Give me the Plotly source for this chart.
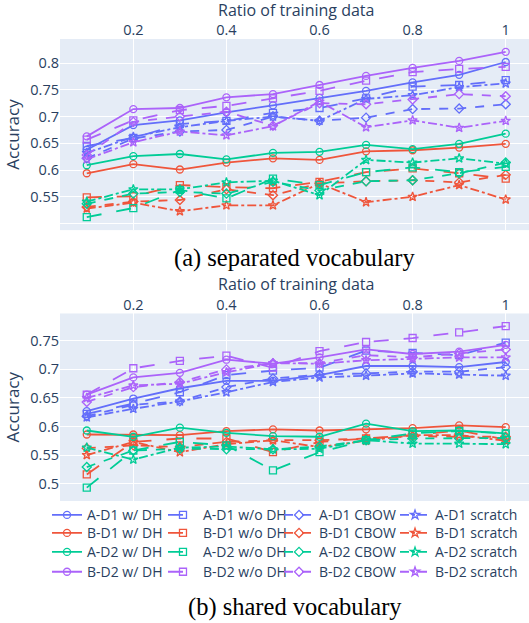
import plotly.graph_objects as go

ratios = [0.1, 0.2, 0.3, 0.4, 0.5, 0.6, 0.7, 0.8, 0.9, 1.0]
tick_vals_x = [0.2, 0.4, 0.6, 0.8, 1.0]
tick_text_x = ["0.2", "0.4", "0.6", "0.8", "1"]

datasets = ["A-D1", "B-D1", "A-D2", "B-D2"]
methods = ["w/ DH", "w/o DH", "CBOW", "scratch"]

# (a) separated vocabulary
sep_AD1_wDH = [0.638, 0.684, 0.693, 0.708, 0.721, 0.735, 0.748, 0.764, 0.778, 0.802]
sep_AD1_woDH = [0.645, 0.660, 0.686, 0.692, 0.707, 0.716, 0.734, 0.756, 0.759, 0.768]
sep_AD1_CBOW = [0.622, 0.659, 0.672, 0.675, 0.700, 0.692, 0.698, 0.714, 0.715, 0.723]
sep_AD1_scratch = [0.632, 0.662, 0.680, 0.692, 0.700, 0.692, 0.733, 0.740, 0.755, 0.762]
sep_BD1_wDH = [0.594, 0.611, 0.601, 0.614, 0.622, 0.619, 0.635, 0.637, 0.642, 0.649]
sep_BD1_woDH = [0.549, 0.551, 0.572, 0.568, 0.566, 0.578, 0.596, 0.603, 0.594, 0.584]
sep_BD1_CBOW = [0.531, 0.541, 0.544, 0.564, 0.553, 0.575, 0.579, 0.581, 0.577, 0.591]
sep_BD1_scratch = [0.528, 0.539, 0.523, 0.534, 0.534, 0.575, 0.540, 0.550, 0.572, 0.545]
sep_AD2_wDH = [0.609, 0.626, 0.630, 0.620, 0.632, 0.634, 0.647, 0.639, 0.649, 0.668]
sep_AD2_woDH = [0.512, 0.529, 0.563, 0.547, 0.584, 0.572, 0.596, 0.605, 0.596, 0.606]
sep_AD2_CBOW = [0.537, 0.556, 0.559, 0.556, 0.578, 0.562, 0.579, 0.581, 0.594, 0.614]
sep_AD2_scratch = [0.541, 0.564, 0.564, 0.577, 0.580, 0.553, 0.619, 0.614, 0.622, 0.612]
sep_BD2_wDH = [0.663, 0.714, 0.716, 0.736, 0.742, 0.759, 0.776, 0.791, 0.804, 0.821]
sep_BD2_woDH = [0.657, 0.693, 0.712, 0.720, 0.734, 0.748, 0.767, 0.783, 0.789, 0.793]
sep_BD2_CBOW = [0.628, 0.690, 0.700, 0.709, 0.683, 0.725, 0.723, 0.732, 0.742, 0.738]
sep_BD2_scratch = [0.620, 0.652, 0.672, 0.665, 0.682, 0.728, 0.680, 0.693, 0.679, 0.692]

# (b) shared vocabulary
sha_AD1_wDH = [0.627, 0.649, 0.667, 0.680, 0.680, 0.690, 0.706, 0.706, 0.704, 0.713]
sha_AD1_woDH = [0.622, 0.640, 0.660, 0.690, 0.698, 0.703, 0.733, 0.729, 0.725, 0.747]
sha_AD1_CBOW = [0.618, 0.638, 0.644, 0.669, 0.684, 0.691, 0.693, 0.696, 0.696, 0.704]
sha_AD1_scratch = [0.616, 0.631, 0.644, 0.660, 0.678, 0.686, 0.689, 0.693, 0.691, 0.689]
sha_BD1_wDH = [0.586, 0.586, 0.585, 0.592, 0.595, 0.593, 0.595, 0.597, 0.602, 0.599]
sha_BD1_woDH = [0.516, 0.573, 0.579, 0.579, 0.555, 0.573, 0.579, 0.585, 0.593, 0.577]
sha_BD1_CBOW = [0.562, 0.567, 0.564, 0.573, 0.576, 0.576, 0.579, 0.583, 0.582, 0.582]
sha_BD1_scratch = [0.550, 0.573, 0.555, 0.569, 0.576, 0.564, 0.575, 0.585, 0.585, 0.575]
sha_AD2_wDH = [0.593, 0.582, 0.598, 0.589, 0.583, 0.582, 0.605, 0.592, 0.593, 0.588]
sha_AD2_woDH = [0.493, 0.558, 0.573, 0.567, 0.523, 0.555, 0.576, 0.588, 0.592, 0.588]
sha_AD2_CBOW = [0.529, 0.558, 0.561, 0.560, 0.560, 0.565, 0.576, 0.579, 0.579, 0.580]
sha_AD2_scratch = [0.563, 0.542, 0.563, 0.565, 0.560, 0.561, 0.576, 0.570, 0.570, 0.569]
sha_BD2_wDH = [0.656, 0.686, 0.694, 0.717, 0.710, 0.721, 0.735, 0.727, 0.731, 0.743]
sha_BD2_woDH = [0.656, 0.702, 0.715, 0.724, 0.703, 0.732, 0.748, 0.755, 0.765, 0.776]
sha_BD2_CBOW = [0.643, 0.669, 0.678, 0.700, 0.711, 0.711, 0.725, 0.721, 0.728, 0.735]
sha_BD2_scratch = [0.650, 0.672, 0.675, 0.695, 0.711, 0.710, 0.716, 0.719, 0.721, 0.721]

sep_series = [
    [sep_AD1_wDH, sep_AD1_woDH, sep_AD1_CBOW, sep_AD1_scratch],
    [sep_BD1_wDH, sep_BD1_woDH, sep_BD1_CBOW, sep_BD1_scratch],
    [sep_AD2_wDH, sep_AD2_woDH, sep_AD2_CBOW, sep_AD2_scratch],
    [sep_BD2_wDH, sep_BD2_woDH, sep_BD2_CBOW, sep_BD2_scratch],
]
sha_series = [
    [sha_AD1_wDH, sha_AD1_woDH, sha_AD1_CBOW, sha_AD1_scratch],
    [sha_BD1_wDH, sha_BD1_woDH, sha_BD1_CBOW, sha_BD1_scratch],
    [sha_AD2_wDH, sha_AD2_woDH, sha_AD2_CBOW, sha_AD2_scratch],
    [sha_BD2_wDH, sha_BD2_woDH, sha_BD2_CBOW, sha_BD2_scratch],
]

colors = ["#636efa", "#EF553B", "#00cc96", "#ab63fa"]
dashes = ["solid", "longdash", "dash", "dashdot"]
symbols = ["circle-open", "square-open", "diamond-open", "star-open"]

# legend grid: one single-item legend per (row=dataset, column=method)
legend_col_x = [-0.0277, 0.2196, 0.4670, 0.7143]
legend_row_y = [-0.031, -0.070, -0.111, -0.154]

fig = go.Figure()

for series, xa, ya, show in [(sep_series, "x", "y", False),
                             (sha_series, "x2", "y2", True)]:
    for di, ds in enumerate(datasets):
        for mi, m in enumerate(methods):
            k = di * 4 + mi + 1
            lid = "legend" if k == 1 else f"legend{k}"
            fig.add_trace(go.Scatter(
                x=ratios, y=series[di][mi], xaxis=xa, yaxis=ya,
                mode="lines+markers",
                name=f"{ds} {m}",
                legend=lid,
                showlegend=show,
                line=dict(color=colors[di], dash=dashes[mi], width=1.8),
                marker=dict(symbol=symbols[mi], size=7, color=colors[di],
                            line=dict(width=1.3, color=colors[di])),
            ))

tick_font = dict(family="Open Sans", size=14.5, color="#2a3f5f")
title_font = dict(family="Open Sans", size=16, color="#2a3f5f")
legend_font = dict(family="Open Sans", size=14, color="#2a3f5f")

xcommon = dict(side="top", range=[0.0425, 1.050], tickvals=tick_vals_x, ticktext=tick_text_x,
               tickfont=tick_font,
               showgrid=True, gridcolor="white", zeroline=False, automargin=False)
ytitle = dict(text="Accuracy", font=dict(family="Open Sans", size=17, color="#2a3f5f"), standoff=6)

legends = {}
for di in range(4):
    for mi in range(4):
        k = di * 4 + mi + 1
        lid = "legend" if k == 1 else f"legend{k}"
        legends[lid] = dict(orientation="v", x=legend_col_x[mi], xanchor="left",
                            y=legend_row_y[di], yanchor="middle",
                            font=legend_font, bgcolor="rgba(0,0,0,0)",
                            borderwidth=0, itemwidth=30)

caption_font = dict(family="Liberation Serif", size=24.5, color="black")

fig.update_layout(
    width=529, height=623,
    template="plotly",
    font=dict(family="Open Sans", size=14.5, color="#2a3f5f"),
    paper_bgcolor="white",
    plot_bgcolor="#E5ECF6",
    margin=dict(l=60, r=0, t=39, b=122.3, pad=0, autoexpand=False),
    xaxis=dict(domain=[0, 1], anchor="y", **xcommon),
    yaxis=dict(domain=[0.5863, 1.0], anchor="x", range=[0.4877, 0.845],
               tickvals=[0.5, 0.55, 0.6, 0.65, 0.7, 0.75, 0.8],
               ticktext=["", "0.55", "0.6", "0.65", "0.7", "0.75", "0.8"],
               title=ytitle, tickfont=tick_font,
               gridcolor="white", zeroline=False, automargin=False),
    xaxis2=dict(domain=[0, 1], anchor="y2", **xcommon),
    yaxis2=dict(domain=[0.0, 0.4059], anchor="x2", range=[0.4695, 0.798],
                tickvals=[0.5, 0.55, 0.6, 0.65, 0.7, 0.75],
                ticktext=["0.5", "0.55", "0.6", "0.65", "0.7", "0.75"],
                title=ytitle, tickfont=tick_font,
                gridcolor="white", zeroline=False, automargin=False),
    annotations=[
        # x-axis titles (axes sit on top of each panel)
        dict(text="Ratio of training data", xref="paper", yref="paper",
             x=0.5032, y=1.0617, xanchor="center", yanchor="middle", showarrow=False,
             font=title_font),
        dict(text="Ratio of training data", xref="paper", yref="paper",
             x=0.5032, y=0.4704, xanchor="center", yanchor="middle", showarrow=False,
             font=title_font),
        # panel captions
        dict(text="(a) separated vocabulary", xref="paper", yref="paper",
             x=0.5011, y=0.5257, xanchor="center", yanchor="middle", showarrow=False,
             font=caption_font),
        dict(text="(b) shared vocabulary", xref="paper", yref="paper",
             x=0.5011, y=-0.230, xanchor="center", yanchor="middle", showarrow=False,
             font=caption_font),
    ],
    **legends,
)

fig.write_html("out.html", config={"displayModeBar": False},
               post_script="document.body.style.margin='0px';")
